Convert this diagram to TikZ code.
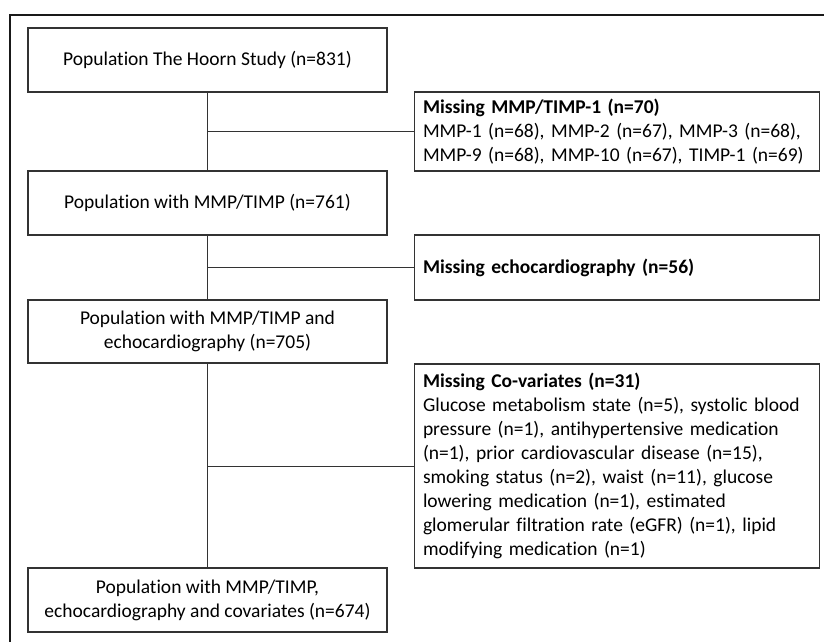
\documentclass[tikz,border=0pt]{standalone}
\usepackage{fontspec}
\setmainfont{Carlito}[Ligatures=CommonOff]
\usetikzlibrary{positioning}
\tikzset{
	-,
	every node/.style={font=\fontsize{19.5}{24}\selectfont},
	flowbox/.style={draw=black!80, line width=1.2pt, minimum width=359pt, minimum height=64pt, inner sep=0pt, align=center},
	missbox/.style={draw=black!80, line width=1.2pt, text width=388pt, inner xsep=8.5pt, inner ysep=0pt, align=left},
	link/.style={draw=black!80, line width=1pt},
}

\begin{document}
\begin{tikzpicture}[x=1pt, y=-1pt]
	\useasboundingbox (0,0) rectangle (824,642);
	% frame
	\draw[line width=2pt, black!90] (10,642) -- (10,15) -- (824,15);

	% population boxes
	\node[flowbox] (hoorn) at (207.5,60) {Population The Hoorn Study (n=831)};
	\node[flowbox] (mmp) at (207.5,203) {Population with MMP/TIMP (n=761)};
	\node[flowbox, minimum height=63pt] (echo) at (207.5,331.5) {Population with MMP/TIMP and\\echocardiography (n=705)};
	\node[flowbox] (final) at (207.5,600) {Population with MMP/TIMP,\\echocardiography and covariates (n=674)};

	% exclusion boxes
	\node[missbox, minimum height=79pt] (missmmp) at (617,131.5) {\textbf{Missing MMP/TIMP-1 (n=70)}\\MMP-1 (n=68), MMP-2 (n=67), MMP-3 (n=68),\\MMP-9 (n=68), MMP-10 (n=67), TIMP-1 (n=69)};
	\node[missbox, minimum height=65pt] (missecho) at (617,267.5) {\textbf{Missing echocardiography (n=56)}};
	\node[missbox, minimum height=204pt] (misscov) at (617,466) {\textbf{Missing Co-variates (n=31)}\\Glucose metabolism state (n=5), systolic blood\\pressure (n=1), antihypertensive medication\\(n=1), prior cardiovascular disease (n=15),\\smoking status (n=2), waist (n=11), glucose\\lowering medication (n=1), estimated\\glomerular filtration rate (eGFR) (n=1), lipid\\modifying medication (n=1)};

	% connectors
	\draw[link] (hoorn) -- (mmp);
	\draw[link] (mmp) -- (echo);
	\draw[link] (echo) -- (final);
	\draw[link] (hoorn.south |- missmmp.west) -- (missmmp.west);
	\draw[link] (mmp.south |- missecho.west) -- (missecho.west);
	\draw[link] (echo.south |- misscov.west) -- (misscov.west);
\end{tikzpicture}
\end{document}
